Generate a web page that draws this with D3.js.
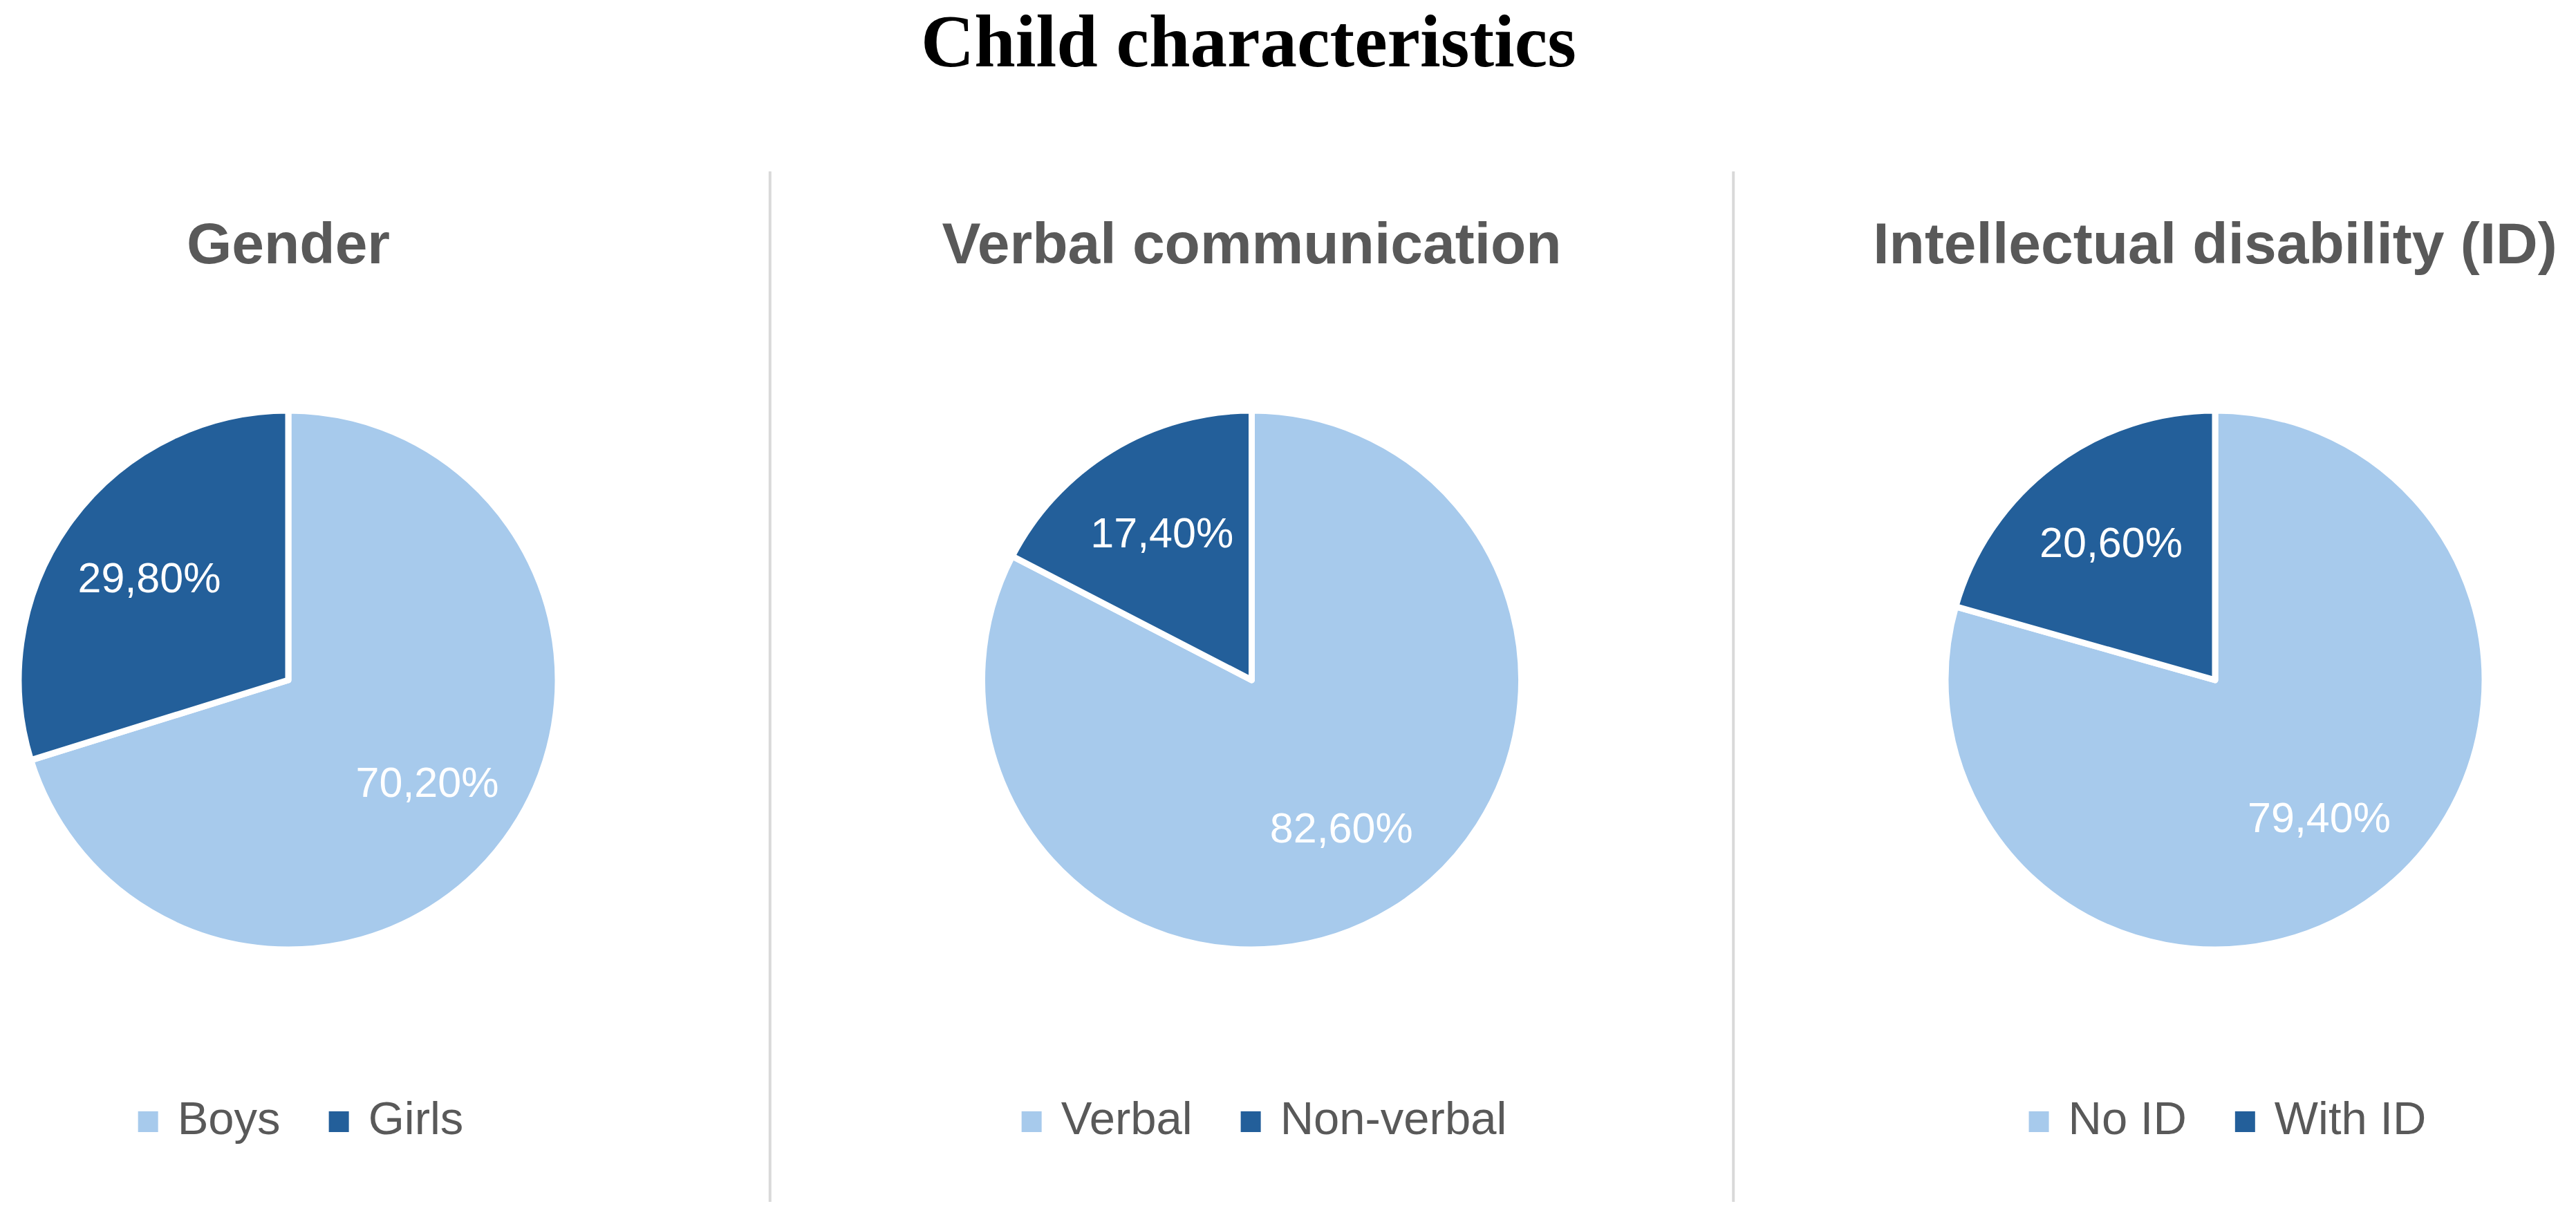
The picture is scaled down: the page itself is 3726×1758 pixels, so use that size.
<!DOCTYPE html>
<html>
<head>
<meta charset="utf-8">
<script src="https://cdn.jsdelivr.net/npm/d3@7"></script>
<style>
  html, body { margin: 0; padding: 0; background: #ffffff; }
  svg { display: block; }
</style>
</head>
<body>
<svg id="chart"></svg>
<script>
// chart values
var mainTitle = 'Child characteristics';
var panelTitles = ['Gender', 'Verbal communication', 'Intellectual disability (ID)'];
var categoryNames = [
    ['Boys', 'Girls'],
    ['Verbal', 'Non-verbal'],
    ['No ID', 'With ID']
];
var percentValues = [
    [70.2, 29.8],
    [82.6, 17.4],
    [79.4, 20.6]
];
var sliceColors = ['#a7caec', '#235f9a'];

var width = 3726, height = 1758;
var radius = 390;
var pieCenterY = 984;

var svg = d3.select('#chart')
    .attr('width', width)
    .attr('height', height);

var panelX = d3.scalePoint()
    .domain(d3.range(panelTitles.length))
    .range([417, 3204]);

var colorScale = d3.scaleOrdinal()
    .domain([0, 1])
    .range(sliceColors);

var pct = function (v) {
    return d3.format('.2f')(v).replace('.', ',') + '%';
};

// main title
svg.append('text')
    .attr('x', 1806)
    .attr('y', 96)
    .attr('text-anchor', 'middle')
    .style('font-family', '"Liberation Serif", "Times New Roman", serif')
    .style('font-weight', 'bold')
    .style('font-size', '107px')
    .style('fill', '#000000')
    .text(mainTitle);

// separators between panels
var steps = panelX.step();
d3.range(1, panelTitles.length).forEach(function (i) {
    var sx = panelX(i) - steps / 2;
    svg.append('line')
        .attr('x1', sx).attr('x2', sx)
        .attr('y1', 248).attr('y2', 1739)
        .style('stroke', '#d9d9d9')
        .style('stroke-width', 4);
});

var pie = d3.pie().sort(null).value(function (d) { return d; });
var arc = d3.arc().innerRadius(0).outerRadius(radius);
var labelArc = d3.arc().innerRadius(radius * 0.64).outerRadius(radius * 0.64);

panelTitles.forEach(function (title, i) {
    var cx = panelX(i);
    var panel = svg.append('g').attr('class', 'panel');

    panel.append('text')
        .attr('x', cx)
        .attr('y', 381)
        .attr('text-anchor', 'middle')
        .style('font-family', '"Liberation Sans", Arial, sans-serif')
        .style('font-weight', 'bold')
        .style('font-size', '84px')
        .style('fill', '#595959')
        .text(title);

    var g = panel.append('g')
        .attr('transform', 'translate(' + cx + ',' + pieCenterY + ')');

    var slices = pie(percentValues[i]);

    g.selectAll('path')
        .data(slices)
        .enter().append('path')
        .attr('d', arc)
        .style('fill', function (d) { return colorScale(d.index); })
        .style('stroke', '#ffffff')
        .style('stroke-width', 9)
        .style('stroke-linejoin', 'round');

    g.selectAll('text.value')
        .data(slices)
        .enter().append('text')
        .attr('class', 'value')
        .attr('transform', function (d) {
            return 'translate(' + labelArc.centroid(d) + ')';
        })
        .attr('dy', '0.35em')
        .attr('text-anchor', 'middle')
        .style('font-family', '"Liberation Sans", Arial, sans-serif')
        .style('font-size', '61px')
        .style('fill', '#ffffff')
        .text(function (d) { return pct(d.data); });

    // legend
    var legend = panel.append('g');
    var offset = 0;
    categoryNames[i].forEach(function (name, k) {
        var item = legend.append('g').attr('transform', 'translate(' + offset + ',0)');
        item.append('rect')
            .attr('x', 0)
            .attr('y', -33)
            .attr('width', 29)
            .attr('height', 30)
            .style('fill', colorScale(k));
        var t = item.append('text')
            .attr('x', 57)
            .attr('y', 0)
            .style('font-family', '"Liberation Sans", Arial, sans-serif')
            .style('font-size', '67px')
            .style('fill', '#595959')
            .text(name);
        offset += 57 + t.node().getComputedTextLength() + 70;
    });
    var legendWidth = offset - 70;
    legend.attr('transform', 'translate(' + (cx + 18 - legendWidth / 2) + ',1641)');
});
</script>
</body>
</html>
